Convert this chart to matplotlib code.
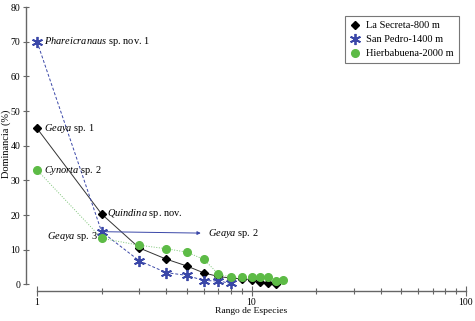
import numpy as np
import matplotlib
matplotlib.use('Agg')
import matplotlib.pyplot as plt
from matplotlib.ticker import FixedLocator, NullFormatter

plt.rcParams['font.family'] = ['Liberation Serif', 'DejaVu Serif']
plt.rcParams['mathtext.fontset'] = 'custom'
plt.rcParams['mathtext.rm'] = 'Liberation Serif'
plt.rcParams['mathtext.it'] = 'Liberation Serif:italic'

# Dominancia (%) por rango de especies
rango_secreta = [1, 2, 3, 4, 5, 6, 7, 8, 9, 10, 11, 12, 13]
dom_secreta = [45, 20.3, 10.5, 7.3, 5.3, 3.3, 2.3, 1.8, 1.6, 1.4, 0.6, 0.3, 0.2]

rango_pedro = [1, 2, 3, 4, 5, 6, 7, 8]
dom_pedro = [70, 15.2, 6.8, 3.4, 2.6, 1.1, 1.0, 0.3]

rango_hierba = [1, 2, 3, 4, 5, 6, 7, 8, 9, 10, 11, 12, 13, 14]
dom_hierba = [33, 13.3, 11.3, 10.3, 9.3, 7.2, 3.0, 2.1, 2.0, 2.0, 2.0, 2.0, 1.0, 1.2]

nombres = ['La Secreta-800 m', 'San Pedro-1400 m', 'Hierbabuena-2000 m']

fig = plt.figure(figsize=(4.75, 3.21), dpi=100)
ax = fig.add_axes([0.078, 0.114, 0.903, 0.864])

ax.plot(rango_secreta, dom_secreta, color='#333333', lw=0.7, ls='-',
        marker='D', ms=4.5, mfc='black', mec='black', clip_on=False, label=nombres[0])
ax.plot(rango_pedro, dom_pedro, color='#3a47a8', lw=0.7, ls='--', dashes=(3, 2),
        marker=(6, 2, 0), ms=8, mew=1.3, mec='#3a47a8', clip_on=False, label=nombres[1])
ax.plot(rango_hierba, dom_hierba, color='#7cc576', lw=0.7, ls=':',
        marker='o', ms=5.5, mfc='#5dbb46', mec='#5dbb46', clip_on=False, label=nombres[2])

ax.set_xscale('log')
ax.set_xlim(1, 100)
ax.set_ylim(0, 80)

# anotaciones
fs = 7.5
ax.text(1.08, 70, r'$\mathit{Phareicranaus}$ sp. nov. 1', fontsize=fs, va='center')
ax.text(1.08, 45, r'$\mathit{Geaya}$ sp. 1', fontsize=fs, va='center')
ax.text(1.08, 33, r'$\mathit{Cynorta}$ sp. 2', fontsize=fs, va='center')
ax.text(2.12, 20.5, r'$\mathit{Quindina}$ sp. nov.', fontsize=fs, va='center')
ax.text(1.93, 13.8, r'$\mathit{Geaya}$ sp. 3', fontsize=fs, va='center', ha='right')
ax.annotate('', xy=(5.8, 14.8), xytext=(2.05, 15.2),
            arrowprops=dict(arrowstyle='-|>', color='#3a47a8', lw=0.7,
                            mutation_scale=5, shrinkA=0, shrinkB=0))
ax.text(6.3, 14.8, r'$\mathit{Geaya}$ sp. 2', fontsize=fs, va='center')

# ejes separados
for s in ['top', 'right']:
    ax.spines[s].set_visible(False)
ax.spines['left'].set_position(('outward', 8))
ax.spines['bottom'].set_position(('outward', 5))
for s in ['left', 'bottom']:
    ax.spines[s].set_color('#666666')
    ax.spines[s].set_linewidth(1.0)

ax.set_yticks(np.arange(0, 81, 10))
ax.xaxis.set_major_locator(FixedLocator([1, 10, 100]))
ax.set_xticklabels(['1', '10', '100'])
minor = [m * d for d in (1, 10) for m in range(2, 10)]
ax.xaxis.set_minor_locator(FixedLocator(minor))
ax.xaxis.set_minor_formatter(NullFormatter())
ax.tick_params(axis='x', which='major', direction='inout', length=7, width=0.8,
               color='#666666', labelsize=7, pad=1.5)
ax.tick_params(axis='y', which='major', direction='inout', length=5, width=0.8,
               color='#666666', labelsize=7, pad=1.5)
ax.tick_params(axis='x', which='minor', direction='inout', length=5, width=0.8,
               color='#666666')

ax.set_xlabel('Rango de Especies', fontsize=6.8)
ax.set_ylabel('Dominancia (%)', fontsize=7.5)
ax.xaxis.set_label_coords(0.5, -0.096)
ax.yaxis.set_label_coords(-0.072, 0.508)
ax.xaxis.label.set_va('center')
ax.yaxis.label.set_va('center')

leg = ax.legend(loc='upper right', bbox_to_anchor=(0.995, 0.985), fontsize=7.5,
                frameon=True, fancybox=False, edgecolor='#555555',
                handlelength=1.0, handletextpad=0.6, borderpad=0.45,
                labelspacing=0.45, numpoints=1)
leg.get_frame().set_linewidth(0.8)
for h in leg.legend_handles:
    h.set_linestyle('None')

fig.savefig('out.png', dpi=100)
